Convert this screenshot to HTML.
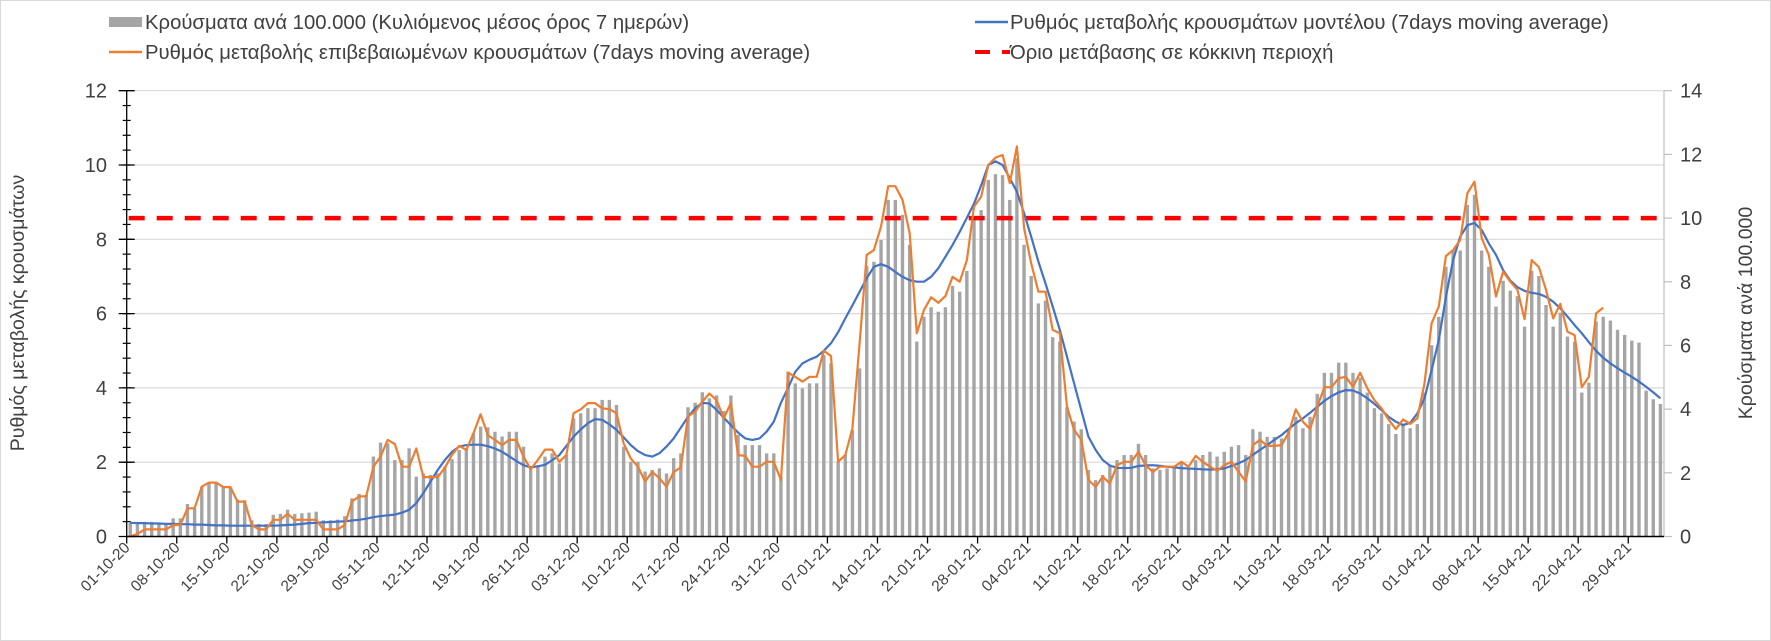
<!DOCTYPE html>
<html><head><meta charset="utf-8"><style>
html,body{margin:0;padding:0;background:#fff}
svg{display:block;font-family:"Liberation Sans",Arial,sans-serif}
</style></head><body>
<svg id="chart" width="1771" height="641" viewBox="0 0 1771 641" xmlns="http://www.w3.org/2000/svg">
<rect x="0.5" y="0.5" width="1770" height="640" fill="#fff" stroke="#d9d9d9"/>
<g id="grid"></g>
<g id="bars"></g>
<g id="lines"></g>
<g id="axes"></g>
<g font-size="20.3" fill="#404040">
  <g><rect x="109" y="17" width="33" height="10" fill="#a5a5a5"/><text x="145" y="29">Κρούσματα ανά 100.000 (Κυλιόμενος μέσος όρος 7 ημερών)</text></g>
  <g><line x1="109" y1="52" x2="142" y2="52" stroke="#ed7d31" stroke-width="2.5"/><text x="145" y="59">Ρυθμός μεταβολής επιβεβαιωμένων κρουσμάτων (7days moving average)</text></g>
  <g><line x1="975" y1="22" x2="1008" y2="22" stroke="#4472c4" stroke-width="2.5"/><text x="1010" y="29">Ρυθμός μεταβολής κρουσμάτων μοντέλου (7days moving average)</text></g>
  <g><line x1="975" y1="52" x2="990" y2="52" stroke="#ff0000" stroke-width="4"/><line x1="1002" y1="52" x2="1010" y2="52" stroke="#ff0000" stroke-width="4"/><text x="1010" y="59">Όριο μετάβασης σε κόκκινη περιοχή</text></g>
</g>
<text transform="translate(24,313) rotate(-90)" text-anchor="middle" font-size="19.5" fill="#404040">Ρυθμός μεταβολής κρουσμάτων</text>
<text transform="translate(1752,313) rotate(-90)" text-anchor="middle" font-size="19.5" fill="#404040">Κρούσματα ανά 100.000</text>
</svg>
<script>
const bars = [0.43,0.39,0.46,0.46,0.43,0.43,0.57,0.57,1.02,0.88,1.56,1.67,1.67,1.56,1.54,1.16,1.14,0.51,0.39,0.39,0.68,0.71,0.84,0.71,0.73,0.75,0.78,0.51,0.51,0.53,0.64,1.2,1.34,1.31,
2.51,2.95,2.93,2.40,2.40,2.77,1.88,1.98,1.93,1.98,2.2,2.43,2.72,2.77,3.24,3.45,3.43,3.29,3.14,3.29,3.29,2.82,2.21,2.24,2.51,2.61,
2.30,2.56,3.71,3.87,4.03,4.03,4.29,4.29,4.13,2.82,2.35,2.35,2.04,2.09,2.14,1.98,2.46,2.61,4.06,4.20,4.53,4.34,4.43,3.94,4.43,3.19,2.87,2.87,2.87,2.61,2.61,1.88,5.18,4.81,4.65,4.81,4.81,5.70,5.44,2.35,2.56,3.34,5.28,8.5,8.63,9.31,10.57,10.57,10.10,9.16,6.12,6.90,7.2,7.06,7.2,7.87,7.69,8.34,9.99,10.25,11.2,
11.38,11.35,10.57,11.88,9.16,8.18,7.32,7.41,6.26,6.12,4.06,3.61,3.37,2.09,1.77,1.93,2.25,2.40,2.56,2.56,2.91,2.56,2.14,2.09,2.14,2.14,2.35,2.14,2.40,2.56,2.66,2.51,2.66,2.82,2.87,2.56,3.37,3.29,3.13,3.13,3.08,3.32,3.76,3.40,3.76,4.48,5.14,5.14,5.46,5.46,5.14,4.99,4.52,4.03,3.87,3.53,3.22,3.55,3.40,3.53,4.52,6.01,6.90,8.47,9.0,
8.98,10.41,10.73,8.98,8.47,7.22,8.03,7.72,7.55,6.59,8.35,8.18,7.27,6.59,7.03,6.28,6.12,4.52,4.83,6.75,6.90,6.78,6.49,6.33,6.15,6.09,4.58,4.31,4.16];
const confirmedRate = [0.0,0.07,0.19,0.19,0.19,0.19,0.31,0.31,0.76,0.76,1.34,1.45,1.45,1.33,1.33,0.94,0.94,0.31,0.19,0.19,0.45,0.45,0.61,0.45,0.45,0.45,0.45,0.19,0.19,0.19,0.31,0.94,1.08,1.08,
1.88,2.15,2.6,2.49,1.88,1.88,2.37,1.6,1.6,1.6,1.85,2.2,2.44,2.33,2.78,3.29,2.73,2.6,2.46,2.6,2.6,2.15,1.81,2.06,
2.34,2.34,2.01,2.19,3.32,3.42,3.59,3.59,3.45,3.43,3.32,2.51,2.10,1.88,1.48,1.74,1.57,1.34,1.74,1.86,3.23,3.36,3.63,3.85,3.67,3.18,3.59,2.19,2.17,1.88,1.88,2.01,2.01,1.52,4.41,4.30,4.17,4.30,4.30,5.0,4.86,2.01,2.19,2.91,5.2,7.58,7.71,8.34,9.43,9.43,9.06,8.16,5.47,6.10,6.44,6.29,6.47,6.99,6.86,7.44,8.88,9.15,10.0,10.2,
10.27,9.51,10.5,8.30,7.35,6.59,6.59,5.56,5.47,3.49,2.87,2.60,1.52,1.34,1.61,1.43,1.92,2.01,2.01,2.28,1.92,1.74,1.88,1.88,1.88,2.01,1.88,2.17,2.01,1.88,1.77,1.92,2.01,1.74,1.48,2.46,2.60,2.44,2.44,2.46,2.79,3.42,3.09,2.89,3.49,4.02,4.02,4.26,4.30,4.03,4.41,3.99,3.67,3.45,3.14,2.89,3.15,3.03,3.18,4.12,5.74,6.19,7.55,7.71,
7.98,9.24,9.55,8.03,7.58,6.46,7.13,6.86,6.64,5.85,7.44,7.25,6.64,5.87,6.26,5.51,5.42,4.02,4.30,6.01,6.16];
const modelRate = [0.37,0.36,0.36,0.35,0.35,0.34,0.34,0.33,0.33,0.32,0.32,0.31,0.30,0.30,0.29,0.29,0.29,0.29,0.29,0.29,0.29,0.30,0.31,0.32,0.34,0.36,0.37,0.38,0.39,0.40,0.41,0.43,0.45,0.48,0.52,0.55,0.57,0.59,0.64,0.72,0.90,1.17,1.48,1.79,2.06,2.28,2.42,2.46,2.47,2.47,2.43,2.37,2.28,2.16,2.03,1.92,1.86,1.89,
1.93,2.05,2.19,2.44,2.69,2.88,3.05,3.16,3.14,3.02,2.87,2.67,2.46,2.3,2.19,2.15,2.24,2.42,2.64,2.93,3.22,3.45,3.6,3.58,3.41,3.2,3.0,2.8,2.64,2.6,2.64,2.82,3.09,3.6,4.0,4.43,4.66,4.76,4.84,5.0,5.2,5.5,5.87,6.22,6.59,6.95,7.26,7.33,7.26,7.12,6.99,6.9,6.86,6.86,6.99,7.22,7.53,7.85,8.2,8.58,8.96,9.45,10.0,10.1,
10.0,9.64,9.28,8.70,8.07,7.40,6.81,6.19,5.56,4.84,4.12,3.40,2.69,2.33,2.06,1.91,1.85,1.84,1.85,1.9,1.91,1.92,1.9,1.88,1.86,1.84,1.83,1.82,1.81,1.8,1.81,1.83,1.9,1.97,2.06,2.2,2.33,2.46,2.6,2.73,2.89,3.05,3.18,3.33,3.49,3.65,3.78,3.88,3.94,3.93,3.85,3.72,3.57,3.4,3.22,3.09,3.0,3.06,3.31,3.72,4.48,5.29,6.45,7.44,
8.07,8.38,8.44,8.25,7.89,7.58,7.17,6.89,6.71,6.61,6.56,6.53,6.45,6.32,6.14,5.92,5.69,5.47,5.23,5.0,4.81,4.66,4.53,4.41,4.30,4.17,4.03,3.88,3.72];
const redThreshold = 10;
const leftTicks = [0,2,4,6,8,10,12];
const rightTicks = [0,2,4,6,8,10,12,14];
const dateLabels = ["01-10-20","08-10-20","15-10-20","22-10-20","29-10-20","05-11-20","12-11-20","19-11-20","26-11-20","03-12-20","10-12-20","17-12-20","24-12-20","31-12-20","07-01-21","14-01-21","21-01-21","28-01-21","04-02-21","11-02-21","18-02-21","25-02-21","04-03-21","11-03-21","18-03-21","25-03-21","01-04-21","08-04-21","15-04-21","22-04-21","29-04-21"];

const NS="http://www.w3.org/2000/svg";
const X0=126.7, X1=1664, Y0=536.5, Y1=90.7, NDAYS=215, DW=(X1-X0)/NDAYS;
const xDay=d=>X0+(d+0.5)*DW;
const xEdge=d=>X0+d*DW;
const yL=v=>Y0-(v/12)*(Y0-Y1);
const yR=v=>Y0-(v/14)*(Y0-Y1);
function mk(tag,attrs,parent){const e=document.createElementNS(NS,tag);for(const k in attrs)e.setAttribute(k,attrs[k]);parent.appendChild(e);return e;}
const grid=document.getElementById('grid'),barsG=document.getElementById('bars'),lines=document.getElementById('lines'),axes=document.getElementById('axes');

leftTicks.forEach(v=>{
  if(v>0){const g=mk('line',{x1:X0,x2:X1,y1:yL(v),y2:yL(v),stroke:'#d9d9d9','stroke-width':1.2},grid);
  
  }
  const t=mk('text',{x:107,y:yL(v)+7,'text-anchor':'end','font-size':20,fill:'#404040'},axes);
  t.textContent=v;
  
  
  mk('line',{x1:X0-8,x2:X0+8,y1:yL(v),y2:yL(v),stroke:'#000','stroke-width':1.3},axes);
});
for(let v=0.4;v<12;v+=0.4){mk('line',{x1:X0-4,x2:X0+4,y1:yL(v),y2:yL(v),stroke:'#000','stroke-width':1.2},axes);}
rightTicks.forEach(v=>{
  const t=mk('text',{x:1680,y:yR(v)+7,'font-size':20,fill:'#404040'},axes);
  t.textContent=v;
  
  
  mk('line',{x1:X1,x2:X1+8,y1:yR(v),y2:yR(v),stroke:'#bfbfbf','stroke-width':1.2},axes);
});

bars.forEach((v,d)=>{
  const r=mk('rect',{x:xDay(d)-1.7,y:yR(v),width:3.4,height:Y0-yR(v),fill:'#a5a5a5'},barsG);
  
  
});

const rl=mk('line',{x1:X0+2,x2:X1-2,y1:yR(redThreshold),y2:yR(redThreshold),stroke:'#ff0000','stroke-width':4.5,'stroke-dasharray':'16 12'},lines);



function path(arr){return arr.map((v,d)=>(d?'L':'M')+xDay(d).toFixed(1)+' '+yL(v).toFixed(1)).join(' ');}
const pb=mk('path',{d:path(modelRate),fill:'none',stroke:'#4472c4','stroke-width':2.2,'stroke-linejoin':'round'},lines);


const po=mk('path',{d:path(confirmedRate),fill:'none',stroke:'#ed7d31','stroke-width':2.2,'stroke-linejoin':'round'},lines);



mk('line',{x1:X0,x2:X0,y1:Y1,y2:Y0,stroke:'#000','stroke-width':1.3},axes);
mk('line',{x1:X1,x2:X1,y1:Y1,y2:Y0,stroke:'#bfbfbf','stroke-width':1.2},axes);
mk('line',{x1:X0,x2:X1,y1:Y0,y2:Y0,stroke:'#000','stroke-width':1.5},axes);
dateLabels.forEach((lab,i)=>{
  const x=xEdge(i*7);
  mk('line',{x1:x,x2:x,y1:Y0,y2:Y0+7,stroke:'#000','stroke-width':1.3},axes);
  const t=mk('text',{transform:`translate(${x+4},${Y0+12}) rotate(-45)`,'text-anchor':'end','font-size':15.5,fill:'#404040'},axes);
  t.textContent=lab;
  
  
});
</script>
</body></html>
